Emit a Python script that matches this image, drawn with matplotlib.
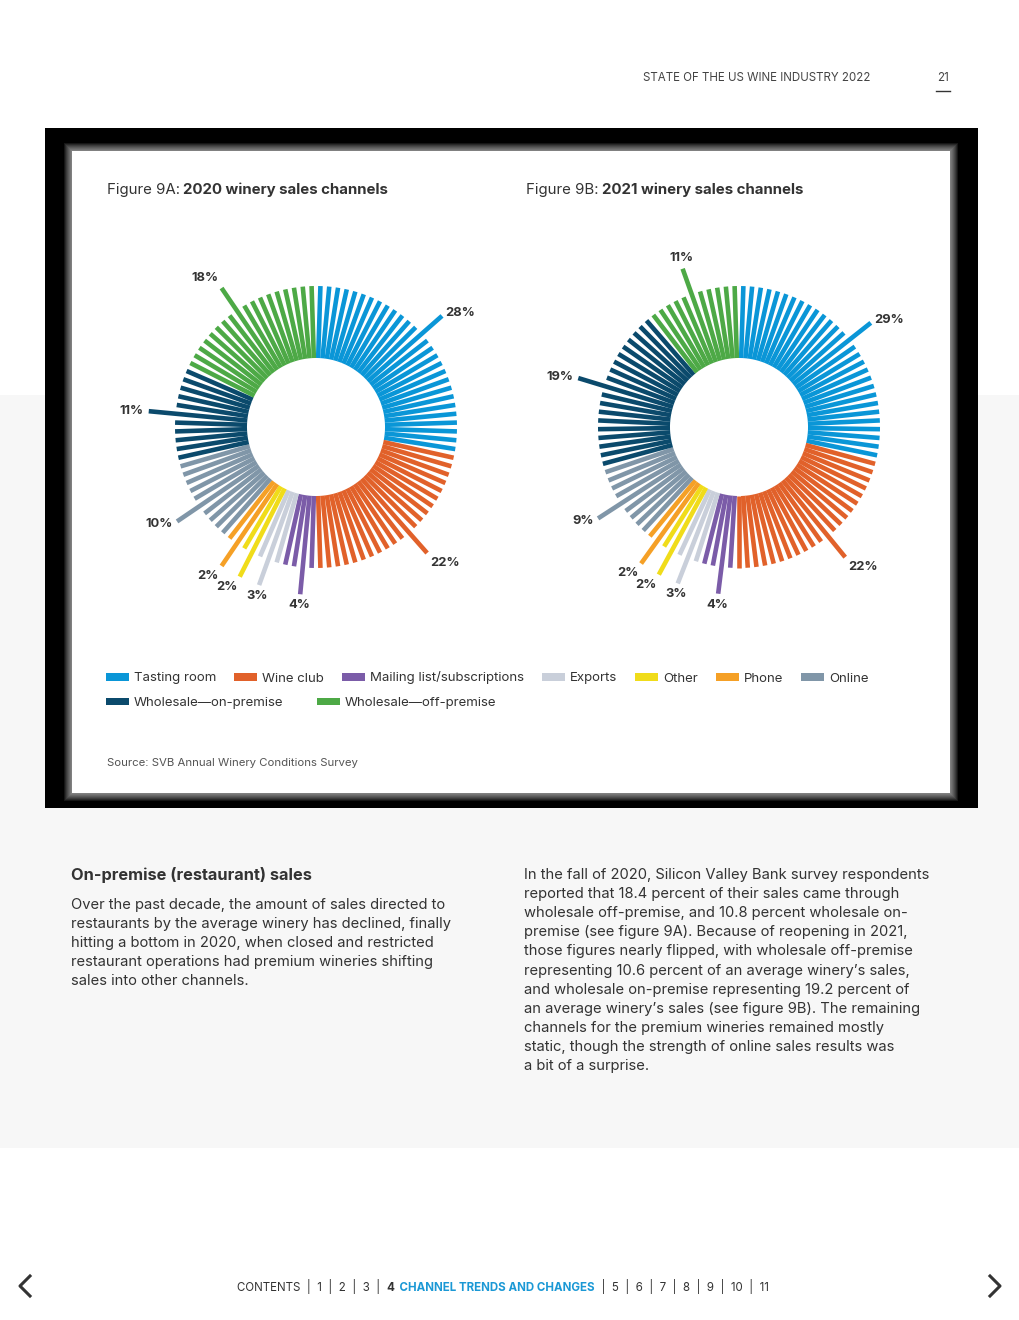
import matplotlib
matplotlib.use("Agg")
import matplotlib.pyplot as plt
from matplotlib.patches import Rectangle, Patch
import numpy as np

plt.rcParams['font.family'] = ['Inter', 'DejaVu Sans']

# ---- data ----
channels = ["Tasting room", "Wine club", "Mailing list/subscriptions", "Exports",
            "Other", "Phone", "Online", "Wholesale\u2014on-premise",
            "Wholesale\u2014off-premise"]
colors = ["#0A96D7", "#E1612A", "#7B5CA8", "#C9CFDA", "#F0DC1A",
          "#F5A026", "#8096A8", "#0B4A6C", "#4DA946"]
share_2020 = [28, 22, 4, 3, 2, 2, 10, 11, 18]
share_2021 = [29, 22, 4, 3, 2, 2, 9, 19, 11]

left_par = [
    "Over the past decade, the amount of sales directed to",
    "restaurants by the average winery has declined, finally",
    "hitting a bottom in 2020, when closed and restricted",
    "restaurant operations had premium wineries shifting",
    "sales into other channels.",
]
right_par = [
    "In the fall of 2020, Silicon Valley Bank survey respondents",
    "reported that 18.4 percent of their sales came through",
    "wholesale off-premise, and 10.8 percent wholesale on-",
    "premise (see figure 9A). Because of reopening in 2021,",
    "those figures nearly flipped, with wholesale off-premise",
    "representing 10.6 percent of an average winery\u2019s sales,",
    "and wholesale on-premise representing 19.2 percent of",
    "an average winery\u2019s sales (see figure 9B). The remaining",
    "channels for the premium wineries remained mostly",
    "static, though the strength of online sales results was",
    "a bit of a surprise.",
]

W, H = 1020, 1320
R_IN, R_OUT, R_LONG = 69, 141, 168
TXT = "#333333"

fig = plt.figure(figsize=(W / 100, H / 100), dpi=100)
page = fig.add_axes([0, 0, 1, 1])
page.set_xlim(0, W)
page.set_ylim(H, 0)
page.axis('off')

# page background
page.add_patch(Rectangle((0, 395), W, 753, color="#F7F7F7", lw=0))
page.add_patch(Rectangle((45, 128), 933, 680, color="black", lw=0))
for i in range(8, 0, -1):
    page.add_patch(Rectangle((72 - i, 151 - i), 878 + 2 * i, 642 + 2 * i,
                             color="white", alpha=0.085, lw=0))
page.add_patch(Rectangle((72, 151), 878, 642, color="white", lw=0))

# header
page.text(643, 78, "STATE OF THE US WINE INDUSTRY 2022", fontsize=8.3,
          color="#444444", va='center')
page.text(943, 78, "21", fontsize=8.3, color="#444444", va='center', ha='center')
page.plot([936, 950], [91, 91], color="#333333", lw=1)


def title(x, y, prefix, bold):
    t = page.text(x, y, prefix, fontsize=10.8, color=TXT, va='bottom')
    page.annotate(bold, xy=(1, 0), xycoords=t, xytext=(2.5, 0),
                  textcoords='offset points', fontsize=10.8, fontweight='bold',
                  color=TXT, va='bottom')


title(107, 197, "Figure 9A:", "2020 winery sales channels")
title(526, 197, "Figure 9B:", "2021 winery sales channels")


def donut(cx, cy, shares):
    r = 200
    ax = fig.add_axes([(cx - r) / W, 1 - (cy + r) / H, 2 * r / W, 2 * r / H],
                      projection='polar')
    ax.set_theta_zero_location('N')
    ax.set_theta_direction(-1)
    ax.set_ylim(0, r)
    ax.axis('off')
    total = sum(shares)
    step = 2 * np.pi / total
    k = 0
    for share, color in zip(shares, colors):
        idx = np.arange(k, k + share)
        theta = (idx + 0.5) * step
        long_i = k + (share - 1) // 2
        tops = np.where(idx == long_i, R_LONG, R_OUT)
        lc = ax.vlines(theta, R_IN, tops, colors=color, linewidth=3.3)
        lc.set_capstyle('butt')
        # label just beyond the tip of the long bar
        th = (long_i + 0.5) * step
        sx, cy_ = np.sin(th), np.cos(th)
        ha = 'left' if sx > 0.4 else ('right' if sx < -0.4 else 'center')
        va = 'bottom' if cy_ > 0.7 else ('top' if cy_ < -0.6 else 'center')
        ax.annotate(f"{share}%", xy=(th, R_LONG), xytext=(3.5 * sx, 3.5 * cy_),
                    textcoords='offset points', ha=ha, va=va,
                    fontsize=9.3, fontweight='bold', color=TXT)
        k += share
    return ax


donut(316, 427, share_2020)
donut(739, 427, share_2021)

# legend
handles = [Patch(facecolor=c, edgecolor='none') for c in colors]
leg_kw = dict(frameon=False, fontsize=9.5, handlelength=1.75, handleheight=0.5,
              handletextpad=0.38, borderpad=0, borderaxespad=0, loc='center left',
              labelcolor=TXT)
fig.legend(handles[:7], channels[:7], ncol=7, columnspacing=1.35,
           bbox_to_anchor=(106 / W, 1 - 678 / H), **leg_kw)
fig.legend(handles[7:], channels[7:], ncol=2, columnspacing=2.5,
           bbox_to_anchor=(106 / W, 1 - 703 / H), **leg_kw)

page.text(107, 763, "Source: SVB Annual Winery Conditions Survey", fontsize=8.2,
          color="#555555", va='center')

# body text
page.text(71, 875, "On-premise (restaurant) sales", fontsize=11.8, fontweight='bold',
          color=TXT, va='center')
for i, line in enumerate(left_par):
    page.text(71, 905 + i * 19.1, line, fontsize=10.6, color=TXT, va='center')
for i, line in enumerate(right_par):
    page.text(524, 875 + i * 19.1, line, fontsize=10.6, color=TXT, va='center')

# footer navigation
sep = "  |  "
segs = [("CONTENTS" + sep + "1" + sep + "2" + sep + "3" + sep, 'normal', TXT),
        ("4", 'bold', TXT),
        ("  CHANNEL TRENDS AND CHANGES", 'bold', "#1A98D5"),
        (sep + sep.join(["5", "6", "7", "8", "9", "10", "11"]), 'normal', TXT)]
prev = page.text(237, 1294, segs[0][0], fontsize=8.3, color=segs[0][2], va='bottom')
for s, wgt, col in segs[1:]:
    prev = page.annotate(s, xy=(1, 0), xycoords=prev, fontsize=8.3, fontweight=wgt,
                         color=col, va='bottom')
page.plot([30, 20, 30], [1276, 1286, 1296], color="#333333", lw=2.2)
page.plot([990, 1000, 990], [1276, 1286, 1296], color="#333333", lw=2.2)

fig.savefig("out.png", dpi=100)
